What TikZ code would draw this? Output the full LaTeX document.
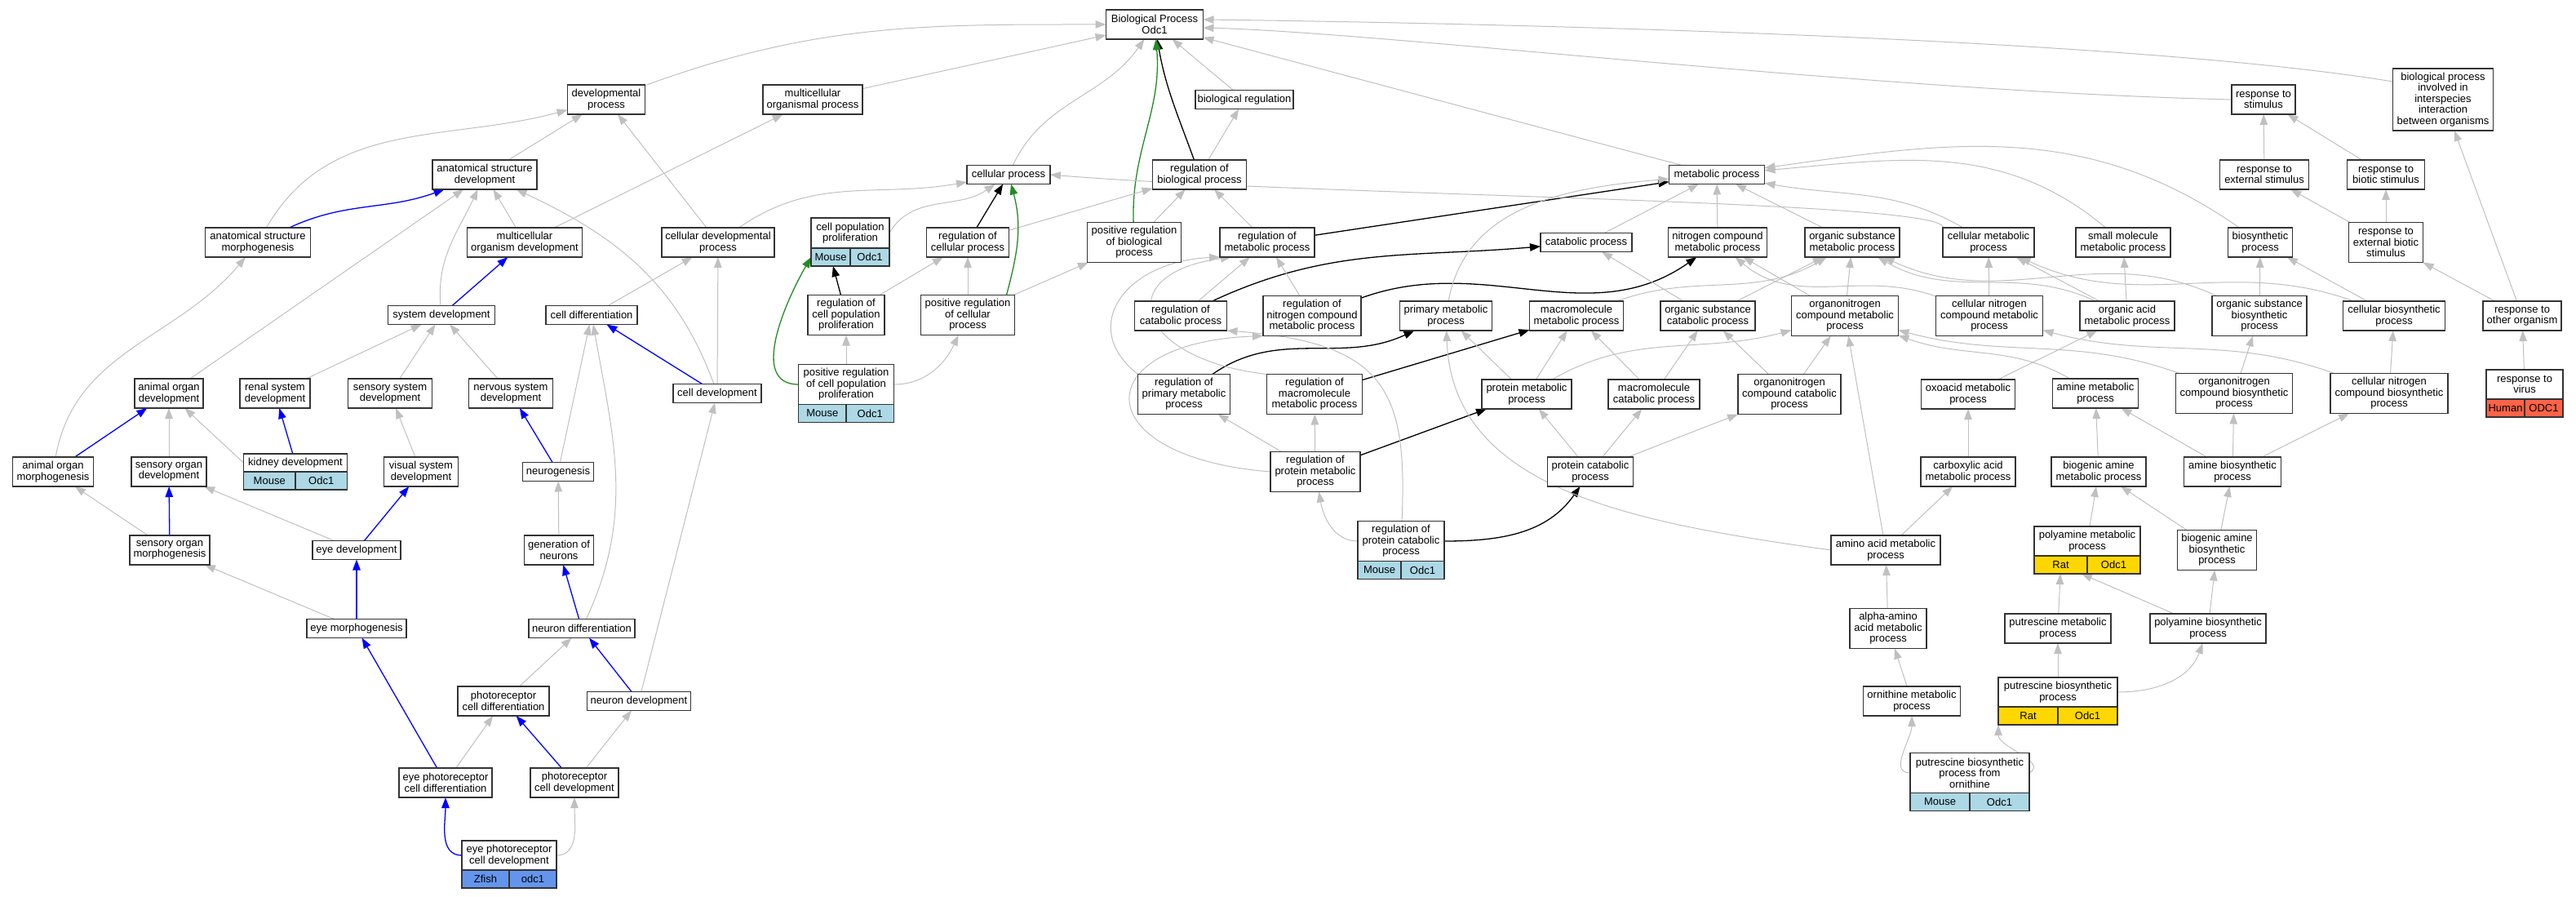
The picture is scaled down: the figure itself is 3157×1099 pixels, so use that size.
\documentclass[tikz,border=0pt]{standalone}
\usepackage{fontspec}
\setmainfont{Liberation Sans}
\usepackage{xcolor}
\usepackage{tikz}
\usetikzlibrary{positioning,arrows.meta}

\definecolor{isagray}{HTML}{C0C0C0}
\definecolor{leafgreen}{HTML}{228B22}
\definecolor{mouse}{HTML}{ADD8E6}
\definecolor{zfish}{HTML}{6495ED}
\definecolor{rat}{HTML}{FFD700}
\definecolor{human}{HTML}{FF6347}

\pgfdeclarelayer{edges}
\pgfsetlayers{edges,main}

\newcommand{\gofont}{\fontsize{13}{13.5}\selectfont}

\tikzset{
  term/.style={draw=black!80, line width=1.4pt, fill=white, align=center, inner sep=2pt, outer sep=0pt, font=\gofont},
  spc/.style={draw=black!80, line width=1.4pt, minimum height=22, inner sep=1pt, outer sep=0pt, font=\gofont},
  h1/.style={minimum height=23},
  h2/.style={minimum height=36},
  h3/.style={minimum height=49},
  h5/.style={minimum height=76},
  isa/.style={isagray, line width=1pt, -{Triangle[length=13pt,width=9.5pt]}},
  devpath/.style={blue, line width=1.3pt, -{Triangle[length=13pt,width=9.5pt]}},
  regpath/.style={black, line width=1.3pt, -{Triangle[length=13pt,width=9.5pt]}},
  posreg/.style={leafgreen, line width=1.3pt, -{Triangle[length=13pt,width=9.5pt]}}
}

\begin{document}
\begin{tikzpicture}[x=1pt, y=1pt]
\useasboundingbox (0,0) rectangle (3157,-1099);

% nodes %
\node[term, h2, minimum width=119] (bp) at (1415,-30) {Biological Process\\Odc1};

\node[term, h2, minimum width=95] (devp) at (743,-122) {developmental\\process};
\node[term, h2, minimum width=122] (mop) at (996,-122) {multicellular\\organismal process};
\node[term, h1, minimum width=120] (breg) at (1525,-122) {biological regulation};
\node[term, h2, minimum width=78] (rstim) at (2774,-122) {response to\\stimulus};
\node[term, h5, minimum width=123] (bpiii) at (2994,-122) {biological process\\involved in\\interspecies\\interaction\\between organisms};

\node[term, h2, minimum width=128] (asd) at (594,-214) {anatomical structure\\development};
\node[term, h1, minimum width=102] (cp) at (1236,-214) {cellular process};
\node[term, h2, minimum width=115] (rbp) at (1470,-214) {regulation of\\biological process};
\node[term, h1, minimum width=117] (mp) at (2104,-214) {metabolic process};
\node[term, h2, minimum width=109] (rext) at (2775,-214) {response to\\external stimulus};
\node[term, h2, minimum width=95] (rbio) at (2924,-214) {response to\\biotic stimulus};

\node[term, h2, minimum width=129] (asm) at (316,-297) {anatomical structure\\morphogenesis};
\node[term, h2, minimum width=141] (mod) at (643,-297) {multicellular\\organism development};
\node[term, h2, minimum width=138] (cdp) at (880,-297) {cellular developmental\\process};
\node[term, minimum height=37, minimum width=96] (cpp) at (1042,-285.5) {cell population\\proliferation};
\node[term, h2, minimum width=101] (rcp) at (1186,-297) {regulation of\\cellular process};
\node[term, h3, minimum width=115] (prbp) at (1390,-297) {positive regulation\\of biological\\process};
\node[term, h2, minimum width=116] (rmp) at (1553,-297) {regulation of\\metabolic process};
\node[term, h1, minimum width=112] (catp) at (1944,-297) {catabolic process};
\node[term, h2, minimum width=121] (ncmp) at (2105,-297) {nitrogen compound\\metabolic process};
\node[term, h2, minimum width=116] (osmp) at (2270,-297) {organic substance\\metabolic process};
\node[term, h2, minimum width=112] (cmp) at (2437,-297) {cellular metabolic\\process};
\node[term, h2, minimum width=116] (smmp) at (2602,-297) {small molecule\\metabolic process};
\node[term, h2, minimum width=79] (bsp) at (2770,-297) {biosynthetic\\process};
\node[term, h3, minimum width=91] (rebs) at (2924,-297) {response to\\external biotic\\stimulus};

\node[term, h1, minimum width=131] (sysd) at (541,-386) {system development};
\node[term, h1, minimum width=112] (cdiff) at (725,-386) {cell differentiation};
\node[term, h3, minimum width=94] (rcpp) at (1037,-386) {regulation of\\cell population\\proliferation};
\node[term, h3, minimum width=115] (prcp) at (1186,-386) {positive regulation\\of cellular\\process};
\node[term, h2, minimum width=113] (rcat) at (1447,-387) {regulation of\\catabolic process};
\node[term, h3, minimum width=120] (rncmp) at (1608,-387) {regulation of\\nitrogen compound\\metabolic process};
\node[term, h2, minimum width=113] (pmp) at (1772,-387) {primary metabolic\\process};
\node[term, h2, minimum width=115] (mmp) at (1932,-387) {macromolecule\\metabolic process};
\node[term, h2, minimum width=116] (oscp) at (2093,-387) {organic substance\\catabolic process};
\node[term, h3, minimum width=131] (oncmp) at (2261,-387) {organonitrogen\\compound metabolic\\process};
\node[term, h3, minimum width=131] (cncmp) at (2438,-387) {cellular nitrogen\\compound metabolic\\process};
\node[term, h2, minimum width=116] (oamp) at (2607,-387) {organic acid\\metabolic process};
\node[term, h3, minimum width=116] (osbp) at (2769,-387) {organic substance\\biosynthetic\\process};
\node[term, h2, minimum width=125] (cbp) at (2934,-387) {cellular biosynthetic\\process};
\node[term, h2, minimum width=96] (roo) at (3091,-387) {response to\\other organism};

\node[term, h2, minimum width=84] (aod) at (207,-482) {animal organ\\development};
\node[term, h2, minimum width=86] (rsd) at (337,-482) {renal system\\development};
\node[term, h2, minimum width=103] (ssd) at (478,-482) {sensory system\\development};
\node[term, h2, minimum width=103] (nsd) at (626,-482) {nervous system\\development};
\node[term, h1, minimum width=108] (celld) at (879,-482) {cell development};
\node[term, h3, minimum width=117] (prcpp) at (1037,-471) {positive regulation\\of cell population\\proliferation};
\node[term, h3, minimum width=113] (rpmp) at (1451,-483) {regulation of\\primary metabolic\\process};
\node[term, h3, minimum width=117] (rmmp) at (1611,-483) {regulation of\\macromolecule\\metabolic process};
\node[term, h2, minimum width=110] (prmp) at (1871,-483) {protein metabolic\\process};
\node[term, h2, minimum width=112] (mcp) at (2027,-483) {macromolecule\\catabolic process};
\node[term, h3, minimum width=126] (onccp) at (2193,-483) {organonitrogen\\compound catabolic\\process};
\node[term, h2, minimum width=115] (oxmp) at (2412,-483) {oxoacid metabolic\\process};
\node[term, h2, minimum width=105] (amp) at (2568,-482) {amine metabolic\\process};
\node[term, h3, minimum width=143] (oncbp) at (2738,-482) {organonitrogen\\compound biosynthetic\\process};
\node[term, h3, minimum width=144] (cncbp) at (2928,-482) {cellular nitrogen\\compound biosynthetic\\process};
\node[term, h2, minimum width=94] (rvir) at (3094,-471) {response to\\virus};

\node[term, h2, minimum width=99] (aom) at (65,-578) {animal organ\\morphogenesis};
\node[term, h2, minimum width=92] (sod) at (207,-578) {sensory organ\\development};
\node[term, minimum height=22, minimum width=127] (kid) at (362,-567) {kidney development};
\node[term, h2, minimum width=91] (vsd) at (516,-578) {visual system\\development};
\node[term, h1, minimum width=87] (neurog) at (684,-578) {neurogenesis};
\node[term, h3, minimum width=110] (rprmp) at (1612,-578) {regulation of\\protein metabolic\\process};
\node[term, h2, minimum width=105] (prcat) at (1949,-578) {protein catabolic\\process};
\node[term, h2, minimum width=116] (camp) at (2412,-578) {carboxylic acid\\metabolic process};
\node[term, h2, minimum width=116] (bamp) at (2572,-578) {biogenic amine\\metabolic process};
\node[term, h2, minimum width=119] (abp) at (2736,-578) {amine biosynthetic\\process};

\node[term, h2, minimum width=98] (som) at (208,-674) {sensory organ\\morphogenesis};
\node[term, h1, minimum width=108] (eyed) at (437,-674) {eye development};
\node[term, h2, minimum width=85] (gon) at (685,-674) {generation of\\neurons};
\node[term, h3, minimum width=106] (rprcp) at (1717,-663) {regulation of\\protein catabolic\\process};
\node[term, h2, minimum width=134] (aamp) at (2311,-674) {amino acid metabolic\\process};
\node[term, h2, minimum width=130] (pamp) at (2558,-663) {polyamine metabolic\\process};
\node[term, h3, minimum width=97] (babp) at (2717,-674) {biogenic amine\\biosynthetic\\process};

\node[term, h1, minimum width=122] (eyem) at (437,-770) {eye morphogenesis};
\node[term, h1, minimum width=130] (ndiff) at (713,-770) {neuron differentiation};
\node[term, h3, minimum width=94] (aaamp) at (2314,-770) {alpha-amino\\acid metabolic\\process};
\node[term, h2, minimum width=130] (putmp) at (2522,-770) {putrescine metabolic\\process};
\node[term, h2, minimum width=142] (pabp) at (2706,-770) {polyamine biosynthetic\\process};

\node[term, h2, minimum width=112] (pcdiff) at (617,-859) {photoreceptor\\cell differentiation};
\node[term, h1, minimum width=127] (ndev) at (783,-859) {neuron development};
\node[term, h2, minimum width=119] (ornmp) at (2343,-859) {ornithine metabolic\\process};
\node[term, h2, minimum width=146] (putbp) at (2522,-848) {putrescine biosynthetic\\process};

\node[term, h2, minimum width=114] (epcdiff) at (546,-959) {eye photoreceptor\\cell differentiation};
\node[term, h2, minimum width=108] (pcdev) at (704,-959) {photoreceptor\\cell development};
\node[term, h3, minimum width=146] (putbpo) at (2414,-947) {putrescine biosynthetic\\process from\\ornithine};

\node[term, h2, minimum width=116] (epcdev) at (624,-1048) {eye photoreceptor\\cell development};

% species %
\node[spc, fill=mouse, minimum width=48, below right=0pt and 0pt of cpp.south west] (cppa) {Mouse};
\node[spc, fill=mouse, minimum width=48, right=0pt of cppa] (cppb) {Odc1};
\node[spc, fill=mouse, minimum width=58.5, below right=0pt and 0pt of prcpp.south west] (prcppa) {Mouse};
\node[spc, fill=mouse, minimum width=58.5, right=0pt of prcppa] (prcppb) {Odc1};
\node[spc, fill=mouse, minimum width=63.5, below right=0pt and 0pt of kid.south west] (kida) {Mouse};
\node[spc, fill=mouse, minimum width=63.5, right=0pt of kida] (kidb) {Odc1};
\node[spc, fill=mouse, minimum width=53, below right=0pt and 0pt of rprcp.south west] (rprcpa) {Mouse};
\node[spc, fill=mouse, minimum width=53, right=0pt of rprcpa] (rprcpb) {Odc1};
\node[spc, fill=mouse, minimum width=73, below right=0pt and 0pt of putbpo.south west] (putbpoa) {Mouse};
\node[spc, fill=mouse, minimum width=73, right=0pt of putbpoa] (putbpob) {Odc1};
\node[spc, fill=zfish, minimum width=58, below right=0pt and 0pt of epcdev.south west] (epcdeva) {Zfish};
\node[spc, fill=zfish, minimum width=58, right=0pt of epcdeva] (epcdevb) {odc1};
\node[spc, fill=rat, minimum width=65, below right=0pt and 0pt of pamp.south west] (pampa) {Rat};
\node[spc, fill=rat, minimum width=65, right=0pt of pampa] (pampb) {Odc1};
\node[spc, fill=rat, minimum width=73, below right=0pt and 0pt of putbp.south west] (putbpa) {Rat};
\node[spc, fill=rat, minimum width=73, right=0pt of putbpa] (putbpb) {Odc1};
\node[spc, fill=human, minimum width=47, below right=0pt and 0pt of rvir.south west] (rvira) {Human};
\node[spc, fill=human, minimum width=47, right=0pt of rvira] (rvirb) {ODC1};

% edges %
\begin{pgfonlayer}{edges}

%development%
\draw[isa] (asm) to[out=60, in=195] (devp);
\draw[devpath] (asm) to[out=25, in=200] (asd);
\draw[isa] (asd) -- (devp);
\draw[isa] (mod) -- (asd);
\draw[isa] (mod) -- (mop);
\draw[isa] (cdp) -- (devp);
\draw[isa] (cdp) to[out=35, in=190] (cp);
\draw[isa] (sysd) to[out=95, in=-115] (asd);
\draw[devpath] (sysd) -- (mod);
\draw[isa] (cdiff) -- (cdp);
\draw[isa] (celld) to[out=110, in=-25] (asd);
\draw[isa] (celld) -- (cdp);
\draw[devpath] (celld) -- (cdiff);
\draw[isa] (aod) -- (asd);
\draw[isa] (rsd) -- (sysd);
\draw[isa] (ssd) -- (sysd);
\draw[isa] (nsd) -- (sysd);
\draw[isa] (aom) to[out=80, in=-130] (asm);
\draw[devpath] (aom) -- (aod);
\draw[isa] (sod) -- (aod);
\draw[isa] (kid.west) -- (aod);
\draw[devpath] (kid) -- (rsd);
\draw[isa] (vsd) -- (ssd);
\draw[isa] (neurog) -- (cdiff);
\draw[devpath] (neurog) -- (nsd);
\draw[isa] (som) -- (aom);
\draw[devpath] (som) -- (sod);
\draw[isa] (eyed) -- (sod);
\draw[devpath] (eyed) -- (vsd);
\draw[isa] (gon) -- (neurog);
\draw[isa] (eyem) -- (som);
\draw[devpath] (eyem) -- (eyed);
\draw[isa] (ndiff) to[out=65, in=-80] (cdiff);
\draw[devpath] (ndiff) -- (gon);
\draw[isa] (pcdiff) -- (ndiff);
\draw[isa] (ndev) -- (celld);
\draw[devpath] (ndev) -- (ndiff);
\draw[isa] (epcdiff) -- (pcdiff);
\draw[devpath] (epcdiff) -- (eyem);
\draw[isa] (pcdev) -- (ndev);
\draw[devpath] (pcdev) -- (pcdiff);
\draw[devpath] (epcdev.west) to[out=180, in=-90] (epcdiff);
\draw[isa] (epcdev.east) to[out=0, in=-90] (pcdev);

%top%
\draw[isa] (devp) to[out=20, in=180] (bp);
\draw[isa] (mop) -- (bp);
\draw[isa] (cp) to[out=65, in=-125] (bp);
\draw[isa] (breg) -- (bp);
\draw[regpath] (rbp) to[out=110, in=-80] (bp);
\draw[isa] (rbp) -- (breg);
\draw[posreg] (prbp) to[out=92, in=-85] (bp);
\draw[isa] (prbp) -- (rbp);
\draw[isa] (mp) -- (bp);
\draw[isa] (rstim.west) .. controls (2300,-112) and (1700,-40) .. ([yshift=-4pt]bp.east);
\draw[isa] ([yshift=22pt]bpiii.west) .. controls (2600,-45) and (1800,-28) .. ([yshift=6pt]bp.east);

%cellular%
\draw[isa] (cpp.east) to[out=60, in=-145] (cp);
\draw[regpath] (rcp) -- (cp);
\draw[isa] (rcp) -- (rbp);
\draw[regpath] (rcpp) -- (cppa);
\draw[isa] (rcpp) -- (rcp);
\draw[posreg] ([xshift=-10pt]prcp.north east) to[out=75, in=-75] (cp);
\draw[isa] (prcp) -- (rcp);
\draw[isa] (prcp) -- (prbp);
\draw[posreg] (prcpp.west) to[out=180, in=240] (cppa.west);
\draw[isa] (prcpp) -- (rcpp);
\draw[isa] (prcpp.east) to[out=0, in=-115] (prcp);

%regulation%
\draw[regpath] (rmp) -- (mp);
\draw[isa] (rmp) -- (rbp);
\draw[regpath] (rcat) to[out=25, in=185] (catp);
\draw[isa] (rcat) -- (rmp);
\draw[regpath] (rncmp) to[out=20, in=-145] (ncmp);
\draw[isa] (rncmp) -- (rmp);
\draw[regpath] (rpmp) to[out=35, in=-155] (pmp);
\draw[isa] (rpmp.north west) .. controls (1320,-400) and (1380,-320) .. (rmp.south west);
\draw[regpath] (rmmp) -- (mmp);
\draw[isa] (rmmp.north west) .. controls (1390,-440) and (1360,-335) .. ([xshift=14pt]rmp.south west);
\draw[regpath] (rprmp) -- (prmp);
\draw[isa] (rprmp) -- (rpmp);
\draw[isa] (rprmp) -- (rmmp);
\draw[isa] (rprmp.west) .. controls (1330,-560) and (1330,-420) .. (rncmp.south west);
\draw[regpath] (rprcp.east) to[out=0, in=-125] (prcat);
\draw[isa] (rprcp.west) to[out=180, in=-80] (rprmp);
\draw[isa] (rprcp) .. controls (1725,-480) and (1700,-420) .. (rcat.south east);

%metabolic%
\draw[isa] (pmp) to[out=80, in=185] (mp);
\draw[isa] (mmp) to[out=20, in=-150] (osmp);
\draw[isa] (prmp) -- (pmp);
\draw[isa] (prmp) -- (mmp);
\draw[isa] (prmp) to[out=30, in=-165] (oncmp);
\draw[isa] (prcat) -- (prmp);
\draw[isa] (prcat) -- (mcp);
\draw[isa] (prcat) -- (onccp);
\draw[isa] (catp) -- (mp);
\draw[isa] (ncmp) -- (mp);
\draw[isa] (osmp) -- (mp);
\draw[isa] (cmp) to[out=150, in=-10] (mp);
\draw[isa] (cmp.north west) .. controls (2390,-245) and (1600,-240) .. (cp.east);
\draw[isa] (smmp) to[out=140, in=5] (mp);
\draw[isa] (bsp) to[out=145, in=8] (mp);
\draw[isa] (oscp) -- (catp);
\draw[isa] (oscp) -- (osmp);
\draw[isa] (oncmp) -- (ncmp);
\draw[isa] (oncmp) -- (osmp);
\draw[isa] (cncmp) to[out=160, in=-40] (ncmp);
\draw[isa] (cncmp) -- (cmp);
\draw[isa] (oamp) to[out=155, in=-30] (osmp);
\draw[isa] (oamp) -- (cmp);
\draw[isa] (oamp) -- (smmp);
\draw[isa] (osbp) to[out=155, in=-25] (osmp);
\draw[isa] (osbp) -- (bsp);
\draw[isa] (cbp) to[out=160, in=-25] (cmp);
\draw[isa] (cbp) -- (bsp);
\draw[isa] (mcp) -- (mmp);
\draw[isa] (mcp) -- (oscp);
\draw[isa] (onccp) -- (oscp);
\draw[isa] (onccp) -- (oncmp);
\draw[isa] (oxmp) -- (oamp);
\draw[isa] (amp) to[out=150, in=-20] (oncmp);
\draw[isa] (oncbp) -- (osbp);
\draw[isa] (oncbp) to[out=160, in=-15] (oncmp);
\draw[isa] (cncbp) -- (cbp);
\draw[isa] (cncbp) to[out=160, in=-15] (cncmp);
\draw[isa] (camp) -- (oxmp);
\draw[isa] (bamp) -- (amp);
\draw[isa] (abp) -- (amp);
\draw[isa] (abp) -- (oncbp);
\draw[isa] (abp) -- (cncbp);

%amino acid and polyamine%
\draw[isa] (aamp.west) .. controls (2000,-640) and (1780,-600) .. (pmp);
\draw[isa] (aamp) -- (camp);
\draw[isa] (aamp) -- (oncmp);
\draw[isa] (aaamp) -- (aamp);
\draw[isa] (ornmp) -- (aaamp);
\draw[isa] (putbpo.west) to[out=180, in=-90] (ornmp);
\draw[isa] (putbpo.east) to[out=30, in=-90] (putbpa.south west);
\draw[isa] (putbp) -- (putmp);
\draw[isa] (putbp.east) to[out=0, in=-110] (pabp);
\draw[isa] (putmp) -- (pampa);
\draw[isa] (pabp) -- (pampa);
\draw[isa] (pabp) -- (babp);
\draw[isa] (pamp) -- (bamp);
\draw[isa] (babp) -- (bamp);
\draw[isa] (babp) -- (abp);

%response%
\draw[isa] (rvir) -- (roo);
\draw[isa] (roo) -- (rebs);
\draw[isa] (roo) -- (bpiii);
\draw[isa] (rebs) -- (rext);
\draw[isa] (rebs) -- (rbio);
\draw[isa] (rext) -- (rstim);
\draw[isa] (rbio) -- (rstim);

\end{pgfonlayer}

\end{tikzpicture}
\end{document}
